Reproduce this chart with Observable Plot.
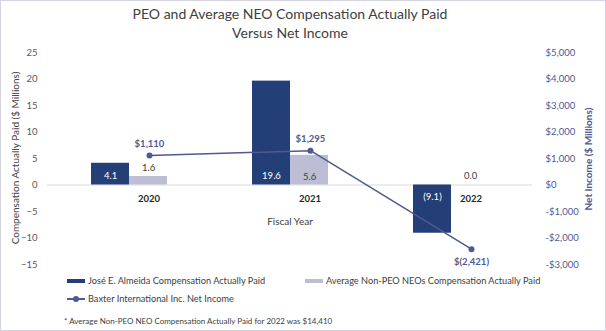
<!DOCTYPE html>
<html><head><meta charset="utf-8">
<script src="https://cdn.jsdelivr.net/npm/d3@7"></script>
<script src="https://cdn.jsdelivr.net/npm/@observablehq/plot@0.6"></script>
<style>
body{margin:0;background:#fff;}
#wrap{position:relative;width:606px;height:331px;font-family:Lato,"Open Sans",sans-serif;overflow:hidden;background:#fff;}
#wrap svg{position:absolute;left:0;top:0;}
.frame{position:absolute;left:0;top:0;width:606px;height:331px;box-sizing:border-box;border:1px solid #d3d3df;pointer-events:none;}
.abs{position:absolute;white-space:nowrap;}
.title{left:0;width:580px;top:4px;text-align:center;font-size:14px;line-height:19px;color:#404040;}
.ylab{transform:translate(-50%,-50%) rotate(-90deg);font-size:10px;}
.leg{font-size:9.2px;color:#404040;line-height:12px;}
.sw{position:absolute;}
</style></head><body><div id="wrap"></div>
<script>
// ---- data ----
const years = ["2020", "2021", "2022"];
const peoCap = [4.1, 19.6, -9.1];          // José E. Almeida CAP ($M)
const neoCap = [1.6, 5.6, 0.0];            // Average Non-PEO NEOs CAP ($M)
const netIncome = [1110, 1295, -2421];     // Net income ($M)
const leftTicks = [-15, -10, -5, 0, 5, 10, 15, 20, 25];
const rightTicks = [-3000, -2000, -1000, 0, 1000, 2000, 3000, 4000, 5000];
const seriesNames = ["José E. Almeida Compensation Actually Paid", "Average Non-PEO NEOs Compensation Actually Paid", "Baxter International Inc. Net Income"];

const NAVY = "#243e78", LAV = "#bdbed6", LINE = "#4f5a8f", TXT = "#404040";
const ratio = 200; // right axis units per left axis unit
const rows = years.map((y, i) => ({year: y, peo: peoCap[i], neo: neoCap[i], net: netIncome[i]}));
const fmtBar = v => v < 0 ? `(${Math.abs(v).toFixed(1)})` : v.toFixed(1);
const fmtNet = v => v < 0 ? `$(${d3.format(",")(-v)})` : `$${d3.format(",")(v)}`;
const fmtAx = v => (v < 0 ? "-" : "") + "$" + d3.format(",")(Math.abs(Math.round(v)));

const plot = Plot.plot({
  width: 606, height: 331,
  marginLeft: 47, marginRight: 74, marginTop: 52, marginBottom: 67,
  style: {fontFamily: "Lato, 'Open Sans', sans-serif", background: "transparent", overflow: "visible"},
  x: {domain: years, paddingInner: 0.53, paddingOuter: 0.265, axis: null},
  y: {domain: [-15, 25], axis: null},
  marks: [
    Plot.ruleY([0], {stroke: "#d9d9d9", strokeWidth: 1}),
    Plot.axisY({anchor: "left", ticks: leftTicks, tickSize: 0, tickPadding: 10, fontSize: 9.5, color: "#595959", label: null}),
    Plot.axisY({anchor: "right", ticks: rightTicks.map(v => v / ratio), tickFormat: v => fmtAx(v * ratio), tickSize: 0, tickPadding: 13, fontSize: 9.5, color: LINE, label: null}),
    Plot.barY(rows, {x: "year", y: "peo", fill: NAVY, insetRight: 38}),
    Plot.barY(rows, {x: "year", y: "neo", fill: LAV, insetLeft: 38}),
    // bar labels
    Plot.text(rows, {filter: d => d.peo >= 0, x: "year", y: 0, text: d => fmtBar(d.peo), dx: -19, dy: -9, fill: "white", fontSize: 9.5}),
    Plot.text(rows, {filter: d => d.peo < 0, x: "year", y: 0, text: d => fmtBar(d.peo), dx: -19, dy: 12, fill: "white", fontSize: 9.5}),
    Plot.text(rows, {filter: d => d.neo >= 2.5, x: "year", y: 0, text: d => fmtBar(d.neo), dx: 19, dy: -8, fill: TXT, fontSize: 9.5}),
    Plot.text(rows, {filter: d => d.neo < 2.5, x: "year", y: "neo", text: d => fmtBar(d.neo), dx: 19, dy: -9, fill: TXT, fontSize: 9.5}),
    // year labels at the zero line
    Plot.text(rows, {x: "year", y: 0, text: "year", dx: 19.5, dy: 14, fontWeight: "bold", fontSize: 9.5, fill: "#262626"}),
    // net income line
    Plot.lineY(rows, {x: "year", y: d => d.net / ratio, stroke: LINE, strokeWidth: 1.5, dx: 20}),
    Plot.dot(rows, {x: "year", y: d => d.net / ratio, fill: LINE, r: 3, dx: 20}),
    Plot.text(rows, {filter: d => d.net >= 0, x: "year", y: d => d.net / ratio, text: d => fmtNet(d.net), dx: 20, dy: -12, fill: LINE, fontWeight: "bold", fontSize: 9.5}),
    Plot.text(rows, {filter: d => d.net < 0, x: "year", y: d => d.net / ratio, text: d => fmtNet(d.net), dx: 20, dy: 13, fill: LINE, fontWeight: "bold", fontSize: 9.5})
  ]
});

const wrap = document.getElementById("wrap");
wrap.appendChild(plot);
wrap.insertAdjacentHTML("beforeend", `
  <div class="abs title">PEO and Average NEO Compensation Actually Paid<br>Versus Net Income</div>
  <div class="abs ylab" style="left:15px;top:158px;color:${TXT}">Compensation Actually Paid ($ Millions)</div>
  <div class="abs ylab" style="left:588px;top:159px;color:${LINE};font-weight:bold">Net Income ($ Millions)</div>
  <div class="abs" style="left:290px;top:221px;transform:translate(-50%,-50%);font-size:10px;color:${TXT}">Fiscal Year</div>
  <div class="sw" style="left:67px;top:279px;width:18px;height:4px;background:${NAVY}"></div>
  <div class="abs leg" style="left:88px;top:275px">${seriesNames[0]}</div>
  <div class="sw" style="left:305px;top:279px;width:18px;height:4px;background:${LAV}"></div>
  <div class="abs leg" style="left:326px;top:275px">${seriesNames[1]}</div>
  <div class="sw" style="left:67px;top:298px;width:18px;height:1.5px;background:${LINE}"></div>
  <div class="sw" style="left:73px;top:296px;width:6px;height:6px;border-radius:50%;background:${LINE}"></div>
  <div class="abs leg" style="left:88px;top:293px">${seriesNames[2]}</div>
  <div class="abs leg" style="left:64px;top:315px;font-size:8px">* Average Non-PEO NEO Compensation Actually Paid for 2022 was $14,410</div>
  <div class="frame"></div>
`);
</script></body></html>
